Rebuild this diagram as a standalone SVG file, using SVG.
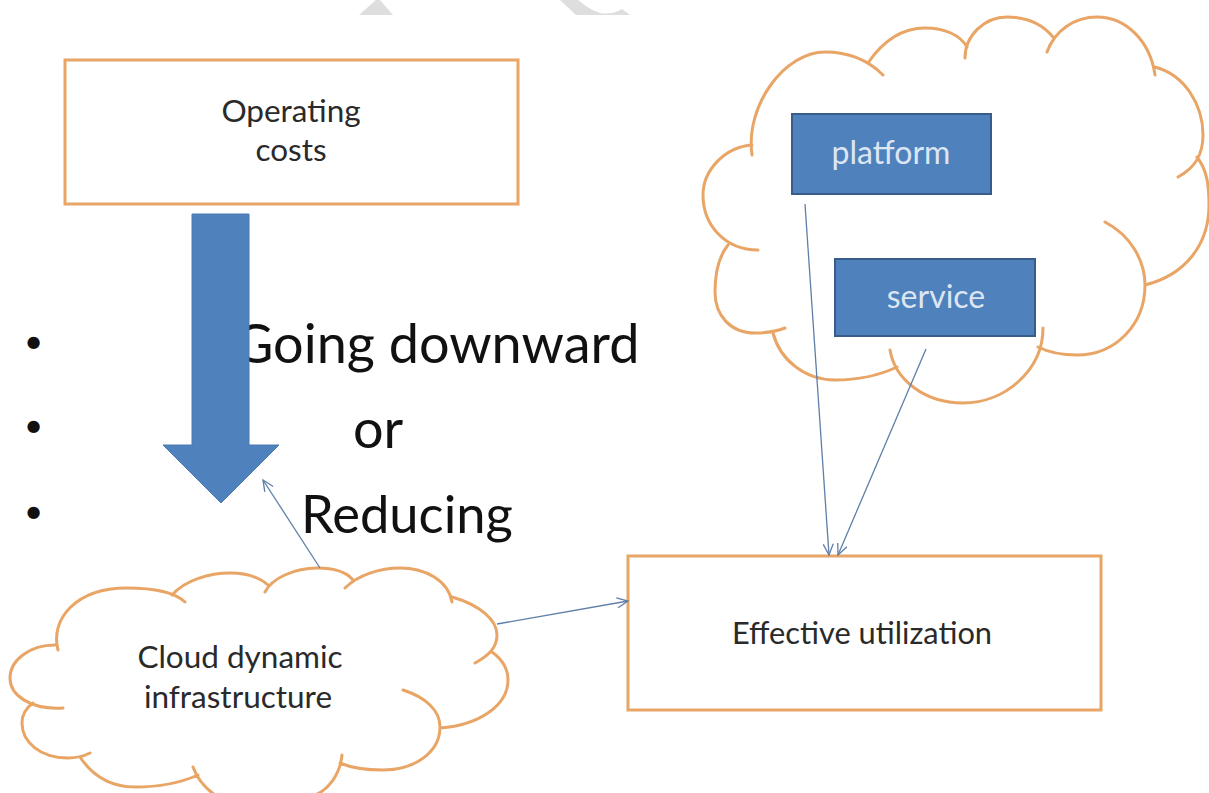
<svg xmlns="http://www.w3.org/2000/svg" width="1209" height="793" viewBox="0 0 1209 793">
<style>
text{font-family:"Lato","Open Sans","Liberation Sans",sans-serif}
.o{fill:#fff;stroke:#e8a566;stroke-width:3}
.c{fill:none;stroke:#e8a566;stroke-width:3;stroke-linecap:round}
.b{fill:#4f81bd;stroke:#385d8a;stroke-width:2}
.t{font-size:31.5px;fill:#2a2a2a;text-anchor:middle}
.e{font-size:30.8px;fill:#2a2a2a;text-anchor:middle}
.w{font-size:32px;fill:#dce6f2;text-anchor:middle}
.l{font-size:54px;fill:#111}
.r{font-size:52.500px;fill:#111}
.d{font-size:33px;fill:#111}
.k{stroke:#5f7fa8;stroke-width:1.3;fill:none;marker-end:url(#a)}
</style>
<defs><marker id="a" markerWidth="14" markerHeight="14" refX="12" refY="6" orient="auto" markerUnits="userSpaceOnUse"><path d="M1,1 L12,6 L1,11" fill="none" stroke="#5f7fa8" stroke-width="1.3"/></marker></defs>
<rect width="1209" height="793" fill="#fff"/>
<g id="watermark" fill="#dedede"><path d="M359,15 L376,0 L380,0 L393,15Z"/><path d="M560,0 L576,15 L630,15 L622,9 Q612,15 600,13 Q590,10 578,0Z"/></g>
<g id="list"><text class="d" x="24" y="352.500">•</text><text class="d" x="24" y="436.500">•</text><text class="d" x="24" y="522.500">•</text><text class="l" x="234" y="363">Going downward</text><text class="l" x="353" y="448">or</text><text class="r" x="301" y="533">Reducing</text></g>
<g id="operating-costs"><rect class="o" x="65" y="60" width="453" height="144"/><text class="t" x="291" y="122">Operating</text><text class="t" x="291" y="161">costs</text></g>
<g id="down-arrow"><path d="M192,214 H249 V445 H279 L221,503 L163,445 H192Z" fill="#4f81bd" stroke="#4a7ab3"/></g>
<g id="effective-utilization"><rect class="o" x="628" y="556" width="473" height="154"/><text class="e" x="862" y="644">Effective utilization</text></g>
<g id="cloud-services"><path class="c" d="M752,155C745,105 785,52 825,52C850,52 868,60 883,75M868,63C885,38 905,28 925,28C945,28 960,35 967,47M965,58C965,35 985,17 1007,17C1028,17 1043,25 1053,37M1047,52C1055,30 1075,17 1097,17C1125,17 1150,40 1155,75M1155,67C1185,75 1203,105 1203,135C1203,155 1195,168 1178,177M1197,157C1207,170 1209,185 1209,205C1209,245 1185,275 1145,285M1105,222C1130,235 1145,260 1145,285C1145,325 1115,355 1077,355C1062,355 1048,352 1038,347M1043,328C1043,370 1005,403 963,403C925,403 895,380 890,350M897,367C880,375 860,380 835,380C805,380 780,360 773,333M785,328C775,332 765,333 755,333C730,333 715,315 715,292C715,270 720,255 728,245M758,250C725,250 703,225 703,195C703,170 725,147 752,145"/></g>
<g id="platform"><rect class="b" x="792" y="114" width="199" height="80"/><text class="w" x="891" y="164">platform</text></g>
<g id="service"><rect class="b" x="835" y="259" width="200" height="77"/><text class="w" x="936" y="308">service</text></g>
<g id="cloud-infrastructure"><path class="c" d="M58,650C50,620 75,588 127,588C145,588 172,590 185,602M172,595C185,580 210,573 230,573C245,573 258,576 268,585M265,592C272,578 295,568 317,568C330,568 345,570 353,580M345,588C358,575 380,568 400,568C425,568 448,580 452,602M452,597C480,605 497,620 497,635C497,648 488,656 475,663M492,652C503,660 508,670 508,680C508,705 480,725 440,728M403,690C425,697 440,710 440,727C440,752 415,770 383,770C368,770 352,768 340,763M342,755C340,775 328,790 315,795M215,795C205,788 197,778 193,767M198,775C180,783 160,787 135,787C110,787 92,775 80,757M90,753C82,757 75,758 68,758C40,758 22,742 22,723C22,715 26,708 33,703M63,708C30,710 10,695 10,678C10,660 30,645 55,645"/><text class="t" x="240" y="668">Cloud dynamic</text><text class="t" x="238" y="708">infrastructure</text></g>
<g id="connectors"><path class="k" d="M805,204L829,555"/><path class="k" d="M926,349L838,555"/><path class="k" d="M320,568L263,480"/><path class="k" d="M497,624L628,601"/></g>
</svg>
